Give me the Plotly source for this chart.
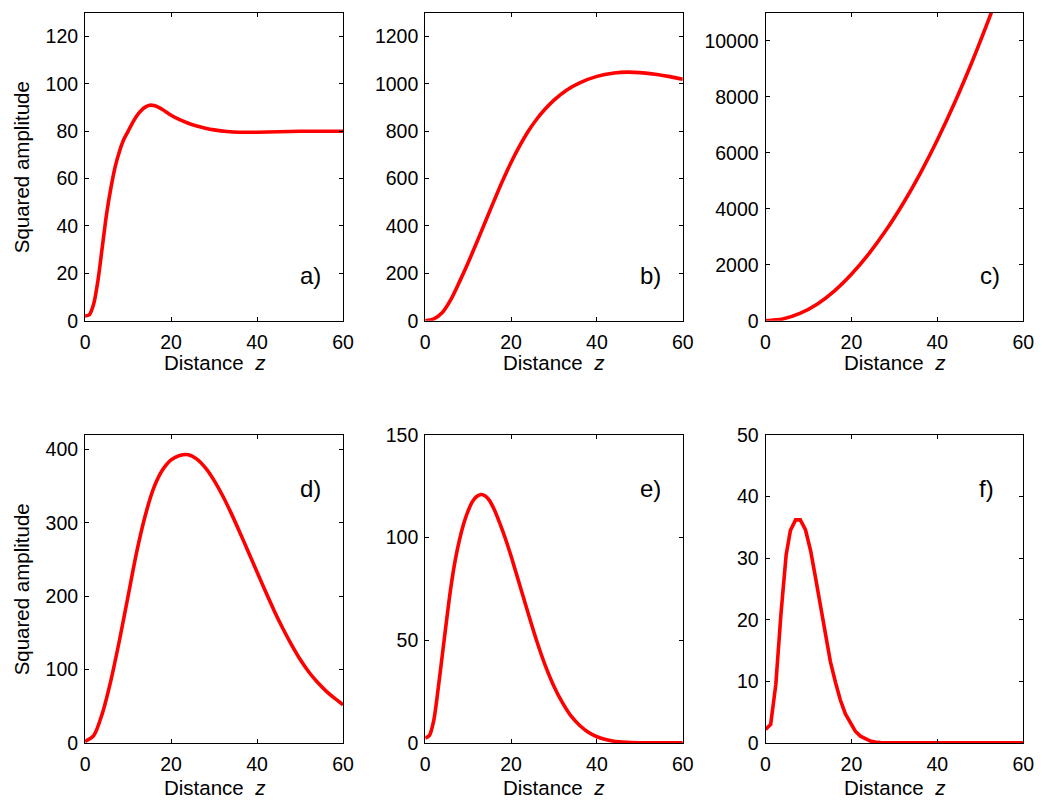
import plotly.graph_objects as go

# ---------------- data ----------------
Z_A = [0, 1, 2, 3, 4, 5, 6, 7, 8, 9, 10, 11, 12, 13, 14, 15, 16, 17, 18, 20, 22, 24, 26, 28, 30, 33, 36, 40, 45, 50, 55, 60]
V_A = [2, 2.5, 7, 17, 31, 45, 56, 65, 71.5, 76.5, 80, 83.5, 86.5, 88.7, 90.2, 91, 90.9, 90.2, 89.2, 86.8, 84.9, 83.4, 82.2, 81.3, 80.6, 79.9, 79.6, 79.6, 79.8, 80, 80, 80]

Z_B = [0, 2, 4, 6, 8, 10, 12, 14, 16, 18, 20, 22, 24, 26, 28, 30, 33, 36, 40, 44, 47, 50, 54, 57, 60]
V_B = [0, 8, 35, 90, 165, 245, 330, 418, 505, 590, 668, 738, 800, 852, 895, 932, 975, 1005, 1032, 1046, 1050, 1048, 1040, 1031, 1020]

Z_C = [0, 4, 8, 12, 16, 20, 24, 28, 32, 36, 40, 44, 48, 52, 54]
V_C = [0, 60, 260, 590, 1060, 1660, 2380, 3220, 4180, 5260, 6460, 7780, 9220, 10780, 11600]

Z_D = [0, 2, 4, 6, 8, 10, 12, 14, 16, 18, 20, 22, 24, 26, 28, 30, 32, 34, 36, 38, 40, 42, 44, 46, 48, 50, 52, 54, 56, 58, 60]
V_D = [2, 10, 40, 85, 140, 200, 260, 310, 348, 372, 386, 392, 393, 387, 375, 358, 337, 313, 287, 260, 233, 206, 180, 156, 134, 114, 97, 83, 71, 61, 52]

Z_E = [0, 1, 2, 3, 4, 5, 6, 7, 8, 9, 10, 11, 12, 13, 14, 15, 16, 17, 18, 19, 20, 22, 24, 26, 28, 30, 32, 34, 36, 38, 40, 42, 44, 46, 48, 50, 55, 60]
V_E = [2.4, 3.7, 11, 26, 43, 60, 76, 89, 99, 107, 113, 117.5, 120, 121, 120.3, 118, 114, 109, 103.5, 97.5, 91, 77, 63, 49.5, 37.5, 27.5, 19.5, 13, 8.5, 5.2, 3, 1.7, 0.8, 0.4, 0.15, 0.05, 0, 0]

Z_F = [0, 1.2, 2.4, 3.6, 4.8, 5.8, 7.0, 8.1, 9.3, 10.5, 11.6, 12.8, 14, 15.1, 16.3, 17.4, 18.6, 19.8, 20.9, 22.1, 23.3, 24.4, 25.6, 26.8, 30, 35, 40, 50, 60]
V_F = [2.2, 3, 9.5, 21, 30.5, 34.5, 36.2, 36.2, 34.6, 31.2, 27, 22, 17.5, 13.2, 9.8, 7, 4.7, 3.1, 1.9, 1.1, 0.6, 0.3, 0.15, 0.07, 0.02, 0.05, 0.1, 0.02, 0]

LABELS = ["a)", "b)", "c)", "d)", "e)", "f)"]
Y_RANGES = [130, 1300, 11000, 420, 150, 50]
Y_DTICKS = [20, 200, 2000, 100, 50, 10]
X_TICKS = [0, 20, 40, 60]
X_TITLE = "Distance\u00a0 <i>z</i>"
Y_TITLE = "Squared amplitude"

# ---------------- layout geometry ----------------
W, H = 1049, 812
FONT = "Arial, Liberation Sans, Helvetica, sans-serif"
COLS = [(81.3, 343.3), (426.7, 688.3), (772.3, 1034.0)]
ROWS = [(2.0, 318.3), (435.7, 752.3)]
LABEL_POS = [(0.873, 0.146), (0.873, 0.146), (0.870, 0.146),
             (0.873, 0.825), (0.873, 0.825), (0.857, 0.825)]
XTITLE_Y = [-0.137, -0.145]

series = [(Z_A, V_A, "spline"), (Z_B, V_B, "spline"), (Z_C, V_C, "spline"),
          (Z_D, V_D, "spline"), (Z_E, V_E, "spline"), (Z_F, V_F, "linear")]

fig = go.Figure()
layout = dict(width=W, height=H, margin=dict(l=0, r=0, t=0, b=0),
              paper_bgcolor="white", plot_bgcolor="white", showlegend=False,
              font=dict(family=FONT, color="black"))
annotations = []

for i, (z, v, shape) in enumerate(series):
    r, c = divmod(i, 3)
    n = "" if i == 0 else str(i + 1)
    fig.add_trace(go.Scatter(x=z, y=v, mode="lines",
                             line=dict(color="#ff0000", width=3.6, shape=shape, smoothing=0.8),
                             xaxis="x" + n, yaxis="y" + n, hoverinfo="skip"))
    x0, x1 = COLS[c]
    y0, y1 = ROWS[r]
    common = dict(ticks="inside", ticklen=4, tickwidth=1, tickcolor="black",
                  showline=True, linecolor="black", linewidth=1, mirror="ticks",
                  showgrid=False, zeroline=False,
                  tickfont=dict(size=19.5, color="black", family=FONT))
    layout["xaxis" + n] = dict(domain=[x0 / W, x1 / W], range=[0, 60], tickvals=X_TICKS,
                              anchor="y" + n, ticklabelstandoff=4, **common)
    layout["yaxis" + n] = dict(domain=[1 - y1 / H, 1 - y0 / H], range=[0, Y_RANGES[i]],
                              tick0=0, dtick=Y_DTICKS[i], anchor="x" + n, tickformat="d",
                              ticklabelstandoff=2, **common)
    lx, ly = LABEL_POS[i]
    annotations.append(dict(text=LABELS[i], xref="x" + n + " domain", yref="y" + n + " domain",
                            x=lx, y=ly, showarrow=False, xanchor="center", yanchor="middle",
                            font=dict(size=24, color="black", family=FONT)))
    annotations.append(dict(text=X_TITLE, xref="x" + n + " domain", yref="y" + n + " domain",
                            x=0.5, y=XTITLE_Y[r], showarrow=False, xanchor="center", yanchor="middle",
                            font=dict(size=20.5, color="black", family=FONT)))
    if c == 0:
        annotations.append(dict(text=Y_TITLE, xref="paper", yref="y" + n + " domain",
                                x=16.7 / W, y=0.5, showarrow=False, textangle=-90,
                                xanchor="center", yanchor="middle",
                                font=dict(size=20.5, color="black", family=FONT)))

layout["annotations"] = annotations
fig.update_layout(**layout)
fig.write_html("out.html", config={"displayModeBar": False},
               post_script="document.body.style.margin='0';document.body.style.overflow='hidden';")
